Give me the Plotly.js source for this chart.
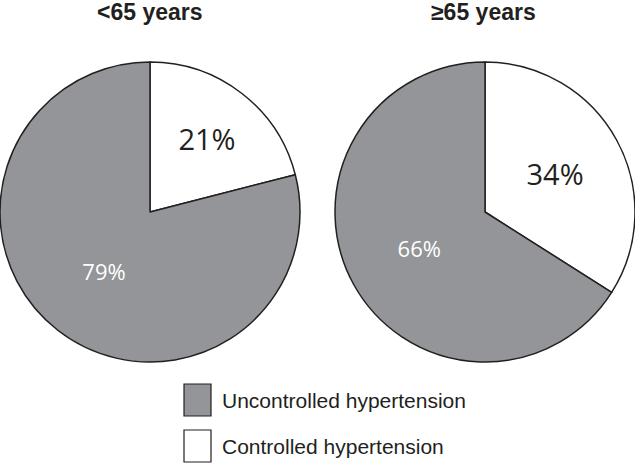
<!DOCTYPE html>
<html>
<head>
<meta charset="utf-8">
<script src="https://cdn.plot.ly/plotly-3.0.1.min.js"></script>
<style>html,body{margin:0;padding:0;background:#fff;}#chart{width:635px;height:463px;}</style>
</head>
<body>
<div id="chart"></div>
<script>
var groups = ["<65 years", "≥65 years"];
var categories = ["Controlled hypertension", "Uncontrolled hypertension"];
var under65 = [21, 79];
var over65 = [34, 66];
var legendOrder = ["Uncontrolled hypertension", "Controlled hypertension"];

var colors = ["#ffffff", "#939598"];
var lineColor = "#231f20";

function pieTrace(values, domainX) {
  return {
    type: "pie",
    values: values,
    labels: categories,
    sort: false,
    direction: "clockwise",
    rotation: 0,
    marker: {colors: colors, line: {color: lineColor, width: 1.5}},
    texttemplate: "%{value}%",
    textposition: "inside",
    insidetextorientation: "horizontal",
    textfont: {family: "Open Sans, sans-serif", size: [29, 22], color: ["#231f20", "#ffffff"]},
    hoverinfo: "label+value",
    showlegend: false,
    domain: {x: domainX, y: [101/463, 401/463]}
  };
}

var data = [
  pieTrace(under65, [0, 300/635]),
  pieTrace(over65, [335/635, 1])
];

var titleFont = {family: "Liberation Sans, Arial, sans-serif", size: 23, color: "#231f20"};
var annotations = [
  {text: "<b>" + groups[0].replace("<", "&lt;") + "</b>", x: 150/635, y: 1 - 12/463, xref: "paper", yref: "paper", xanchor: "center", yanchor: "middle", showarrow: false, font: titleFont},
  {text: "<b>" + groups[1] + "</b>", x: 483/635, y: 1 - 12/463, xref: "paper", yref: "paper", xanchor: "center", yanchor: "middle", showarrow: false, font: titleFont}
];
var shapes = [];
var legendY = [400, 446];
legendOrder.forEach(function (name, i) {
  var c = colors[categories.indexOf(name)];
  shapes.push({type: "rect", xref: "paper", yref: "paper", x0: 184/635, x1: 211/635, y0: 1 - (legendY[i] + 16)/463, y1: 1 - (legendY[i] - 16)/463, fillcolor: c, line: {color: lineColor, width: 1.2}});
  annotations.push({text: name, x: 220/635, y: 1 - legendY[i]/463, xref: "paper", yref: "paper", xanchor: "left", yanchor: "middle", showarrow: false, font: {family: "Liberation Sans, Arial, sans-serif", size: 21, color: "#231f20"}});
});

var layout = {
  width: 635, height: 463,
  margin: {l: 0, r: 0, t: 0, b: 0},
  paper_bgcolor: "#ffffff",
  plot_bgcolor: "#ffffff",
  showlegend: false,
  annotations: annotations,
  shapes: shapes
};
Plotly.newPlot("chart", data, layout, {displayModeBar: false, staticPlot: true});
</script>
</body>
</html>
